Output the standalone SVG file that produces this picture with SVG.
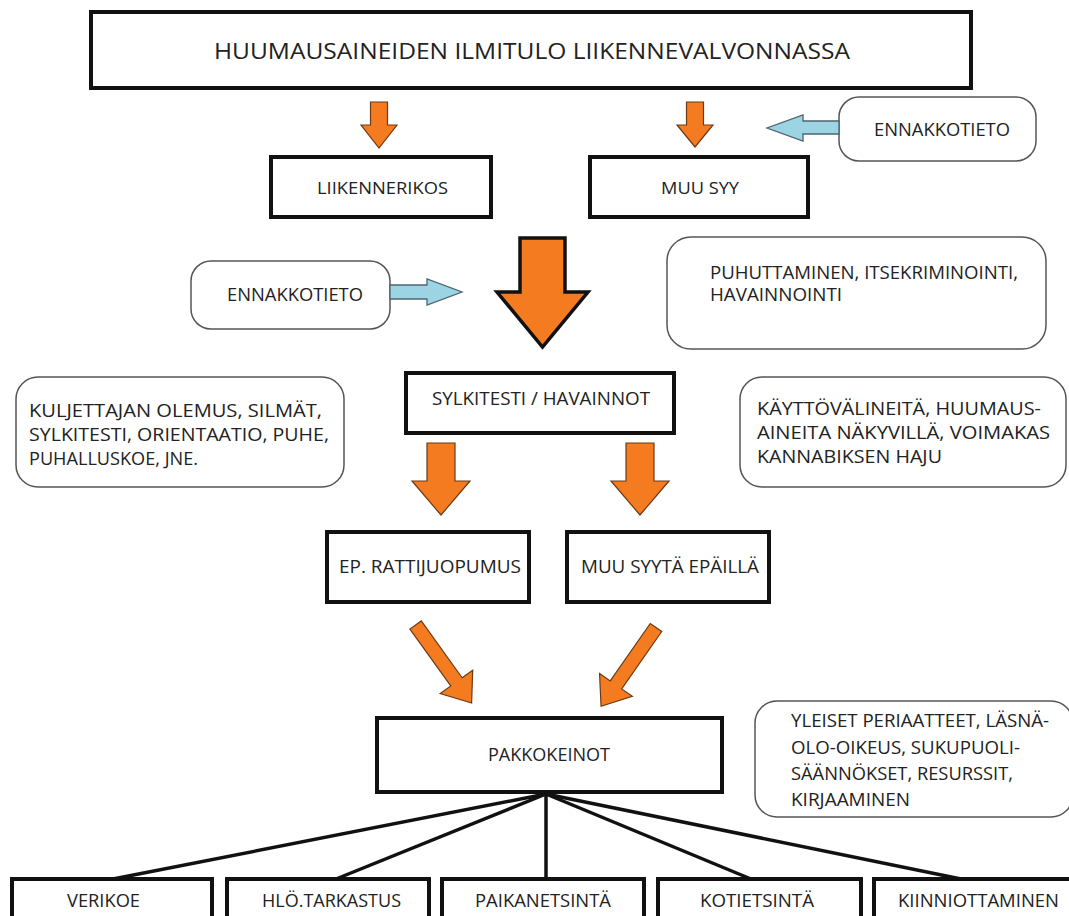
<svg xmlns="http://www.w3.org/2000/svg" width="1069" height="916" viewBox="0 0 1069 916">
<style>
  .box { fill: #fff; stroke: #111; stroke-width: 4; }
  .rbox { fill: #fff; stroke: #555; stroke-width: 1.5; }
  .t { font-family: "Open Sans", "Liberation Sans", sans-serif; fill: #222; }
  .s17 { font-size: 17px; }
  .s18 { font-size: 18px; }
  .s19 { font-size: 19px; }
  .s21 { font-size: 21px; }
  .oa { fill: #F47B20; stroke: #6b3a14; stroke-width: 1.2; stroke-linejoin: miter; }
  .ob { fill: #F47B20; stroke: #111; stroke-width: 3.5; stroke-linejoin: miter; }
  .ba { fill: #9DD4E4; stroke: #4b6470; stroke-width: 1.3; }
  .ln { stroke: #111; stroke-width: 3.5; fill: none; }
</style>

<g id="title">
  <rect class="box" x="91" y="12" width="880" height="76"/>
  <text class="t s21" x="214" y="59" textLength="636" lengthAdjust="spacingAndGlyphs">HUUMAUSAINEIDEN ILMITULO LIIKENNEVALVONNASSA</text>
</g>

<g id="liikennerikos">
  <rect class="box" x="271" y="157" width="220" height="60"/>
  <text class="t s17" x="317" y="194" textLength="131" lengthAdjust="spacingAndGlyphs">LIIKENNERIKOS</text>
</g>

<g id="muu-syy">
  <rect class="box" x="590" y="157" width="218" height="60"/>
  <text class="t s17" x="661" y="194" textLength="78" lengthAdjust="spacingAndGlyphs">MUU SYY</text>
</g>

<g id="ennakkotieto-1">
  <rect class="rbox" x="839" y="97" width="197" height="64" rx="20"/>
  <text class="t s18" x="874" y="136" textLength="136" lengthAdjust="spacingAndGlyphs">ENNAKKOTIETO</text>
</g>

<g id="ennakkotieto-2">
  <rect class="rbox" x="191" y="261" width="199" height="68" rx="20"/>
  <text class="t s18" x="227" y="301" textLength="136" lengthAdjust="spacingAndGlyphs">ENNAKKOTIETO</text>
</g>

<g id="puhuttaminen">
  <rect class="rbox" x="667" y="237" width="379" height="112" rx="24"/>
  <text class="t s18" x="710" y="279" textLength="308" lengthAdjust="spacingAndGlyphs">PUHUTTAMINEN, ITSEKRIMINOINTI,</text>
  <text class="t s18" x="710" y="301" textLength="132" lengthAdjust="spacingAndGlyphs">HAVAINNOINTI</text>
</g>

<g id="sylkitesti">
  <rect class="box" x="406" y="373" width="268" height="60"/>
  <text class="t s18" x="432" y="405" textLength="218" lengthAdjust="spacingAndGlyphs">SYLKITESTI / HAVAINNOT</text>
</g>

<g id="kuljettajan">
  <rect class="rbox" x="16" y="377" width="328" height="110" rx="22"/>
  <text class="t s19" x="29" y="417" textLength="293" lengthAdjust="spacingAndGlyphs">KULJETTAJAN OLEMUS, SILM&#196;T,</text>
  <text class="t s19" x="29" y="441" textLength="300" lengthAdjust="spacingAndGlyphs">SYLKITESTI, ORIENTAATIO, PUHE,</text>
  <text class="t s19" x="29" y="465" textLength="169" lengthAdjust="spacingAndGlyphs">PUHALLUSKOE, JNE.</text>
</g>

<g id="kayttovalineita">
  <rect class="rbox" x="740" y="377" width="326" height="110" rx="22"/>
  <text class="t s19" x="757" y="415" textLength="284" lengthAdjust="spacingAndGlyphs">K&#196;YTT&#214;V&#196;LINEIT&#196;, HUUMAUS-</text>
  <text class="t s19" x="757" y="439" textLength="293" lengthAdjust="spacingAndGlyphs">AINEITA N&#196;KYVILL&#196;, VOIMAKAS</text>
  <text class="t s19" x="757" y="463" textLength="185" lengthAdjust="spacingAndGlyphs">KANNABIKSEN HAJU</text>
</g>

<g id="ep-rattijuopumus">
  <rect class="box" x="327" y="532" width="202" height="70"/>
  <text class="t s19" x="339" y="573" textLength="182" lengthAdjust="spacingAndGlyphs">EP. RATTIJUOPUMUS</text>
</g>

<g id="muu-syyta-epailla">
  <rect class="box" x="567" y="532" width="202" height="70"/>
  <text class="t s19" x="581" y="573" textLength="178" lengthAdjust="spacingAndGlyphs">MUU SYYT&#196; EP&#196;ILL&#196;</text>
</g>

<g id="pakkokeinot">
  <rect class="box" x="377" y="718" width="345" height="74"/>
  <text class="t s18" x="488" y="761" textLength="122" lengthAdjust="spacingAndGlyphs">PAKKOKEINOT</text>
</g>

<g id="yleiset">
  <rect class="rbox" x="755" y="701" width="318" height="116" rx="22"/>
  <text class="t s19" x="791" y="727" textLength="258" lengthAdjust="spacingAndGlyphs">YLEISET PERIAATTEET, L&#196;SN&#196;-</text>
  <text class="t s19" x="791" y="754" textLength="229" lengthAdjust="spacingAndGlyphs">OLO-OIKEUS, SUKUPUOLI-</text>
  <text class="t s19" x="791" y="780" textLength="222" lengthAdjust="spacingAndGlyphs"><tspan>S&#196;&#196;NN&#214;KSET,</tspan> RESURSSIT,</text>
  <text class="t s19" x="791" y="806" textLength="119" lengthAdjust="spacingAndGlyphs">KIRJAAMINEN</text>
</g>

<g id="verikoe">
  <rect class="box" x="12" y="879" width="200" height="50"/>
  <text class="t s19" x="67" y="907" textLength="73" lengthAdjust="spacingAndGlyphs">VERIKOE</text>
</g>
<g id="hlo-tarkastus">
  <rect class="box" x="227" y="879" width="202" height="50"/>
  <text class="t s19" x="262" y="907" textLength="139" lengthAdjust="spacingAndGlyphs">HL&#214;.TARKASTUS</text>
</g>
<g id="paikanetsinta">
  <rect class="box" x="442" y="879" width="202" height="50"/>
  <text class="t s19" x="475" y="907" textLength="136" lengthAdjust="spacingAndGlyphs">PAIKANETSINT&#196;</text>
</g>
<g id="kotietsinta">
  <rect class="box" x="658" y="879" width="203" height="50"/>
  <text class="t s19" x="700" y="907" textLength="114" lengthAdjust="spacingAndGlyphs">KOTIETSINT&#196;</text>
</g>
<g id="kiinniottaminen">
  <rect class="box" x="874" y="879" width="210" height="50"/>
  <text class="t s19" x="898" y="907" textLength="161" lengthAdjust="spacingAndGlyphs">KIINNIOTTAMINEN</text>
</g>

<g id="connectors">
  <path class="oa" d="M370.5,102 H387.5 V125 H397 L379,148 L361,125 H370.5 Z"/>
  <path class="oa" d="M686.5,102 H703.5 V125 H713 L695,147 L677,125 H686.5 Z"/>
  <path class="ba" d="M839,121 H803 V115 L767,128 L803,141 V134 H839 Z"/>
  <path class="ba" d="M390,285 H427 V279 L462,292 L427,305 V299 H390 Z"/>
  <path class="ob" d="M520,238 H565 V292 H588 L542.5,347 L497,292 H520 Z"/>
  <path class="oa" d="M427,443 H455 V481 H470 L441,515 L412,481 H427 Z"/>
  <path class="oa" d="M626,443 H654 V481 H669 L640,515 L611,481 H626 Z"/>
  <path class="oa" transform="translate(415.6,625) rotate(54.3)" d="M0,-7 H70 V-20 L96,0 L70,20 V7 H0 Z"/>
  <path class="oa" transform="translate(656,627.5) rotate(124.9)" d="M0,-7 H70 V-20 L96,0 L70,20 V7 H0 Z"/>
  <line class="ln" x1="546" y1="794" x2="113" y2="879"/>
  <line class="ln" x1="546" y1="794" x2="336" y2="879"/>
  <line class="ln" x1="546" y1="794" x2="546" y2="879"/>
  <line class="ln" x1="546" y1="794" x2="751" y2="879"/>
  <line class="ln" x1="546" y1="794" x2="961" y2="879"/>
</g>
</svg>
